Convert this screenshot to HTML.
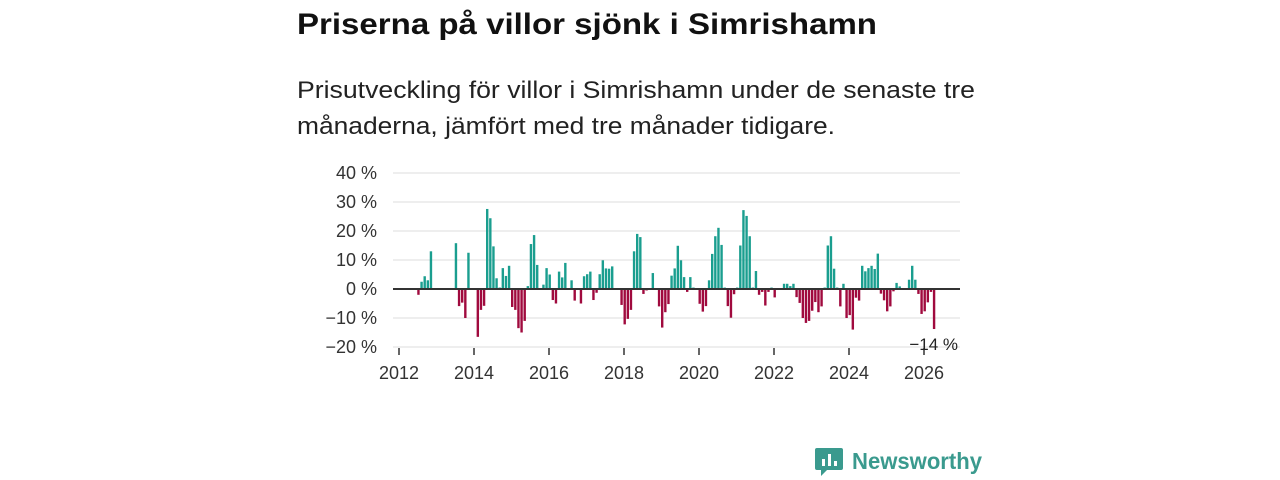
<!DOCTYPE html>
<html><head><meta charset="utf-8">
<style>
html,body{margin:0;padding:0;background:#fff;}
svg{display:block;font-family:"Liberation Sans","DejaVu Sans",sans-serif;}
</style></head>
<body>
<svg id="chart" width="1280" height="480" viewBox="0 0 1280 480">
  <text x="297" y="34" font-size="30" font-weight="bold" fill="#111" textLength="580" lengthAdjust="spacingAndGlyphs">Priserna på villor sjönk i Simrishamn</text>
  <text x="297" y="98" font-size="24" fill="#222" textLength="678" lengthAdjust="spacingAndGlyphs">Prisutveckling för villor i Simrishamn under de senaste tre</text>
  <text x="297" y="134" font-size="24" fill="#222" textLength="538" lengthAdjust="spacingAndGlyphs">månaderna, jämfört med tre månader tidigare.</text>
  <g id="grid"></g>
  <g id="yaxis"></g>
  <g id="xaxis"></g>
  <g id="bars"></g>
  <line x1="393" x2="960" y1="289" y2="289" stroke="#333" stroke-width="2"/>
  <text id="lastlabel" x="958" y="350" font-size="17" fill="#222" text-anchor="end"></text>
  <g>
    <path d="M817 448 h24 a2 2 0 0 1 2 2 v18 a2 2 0 0 1 -2 2 h-14 l-6 6 v-6 h-4 a2 2 0 0 1 -2 -2 v-18 a2 2 0 0 1 2 -2z" fill="#3a9a8e"/>
    <rect x="822" y="459" width="3" height="7" fill="#fff"/>
    <rect x="828" y="454" width="3" height="12" fill="#fff"/>
    <rect x="834" y="461" width="3" height="5" fill="#fff"/>
    <text x="852" y="469" font-size="23" font-weight="bold" fill="#3a9a8e" textLength="130" lengthAdjust="spacingAndGlyphs">Newsworthy</text>
  </g>
</svg>
<script>
const startYear = 2012;
const values = [null,null,null,null,null,null,-2,2.5,4.4,3,13,null,
null,null,null,null,null,null,15.8,-5.9,-4.7,-10,12.5,null,
null,-16.5,-7.2,-5.8,27.6,24.4,14.7,3.7,0.5,7.2,4.5,8,
-6.2,-7.2,-13.5,-15,-11,1,15.5,18.6,8.3,null,1.5,7.2,
5,-3.8,-5,6,4,9,null,3,-4,null,-5,4.4,
5.1,6,-3.8,-1.3,5.1,9.9,7.1,7,7.8,null,null,-5.5,
-12.2,-10.3,-7.2,13,19,17.9,-1.7,-0.5,null,5.5,-0.3,-6,
-13.3,-8,-5.2,4.6,7.1,14.9,9.9,4.1,-1,4.1,0.5,null,
-5.1,-7.8,-5.9,3,12.1,18.2,21.1,15.2,0.5,-5.9,-9.9,-1.8,
0.5,15,27.2,25.2,18.2,0.5,6.2,-2,-1,-5.7,-1,0.5,
-2.9,null,null,1.8,1.8,1,1.8,-2.8,-4.8,-10,-11.7,-11,
-7.5,-4.5,-8,-6,0.5,15,18.2,7,0.5,-6,1.8,-10,
-9,-14,-3,-4,8,6.1,7.2,8,6.9,12.2,-1.6,-3.9,
-7.7,-6,-0.8,2.1,0.9,null,null,3.2,8,3.2,-1.7,-8.6,
-7.7,-4.6,-1,-13.8];
const yTicks = [40,30,20,10,0,-10,-20];
const xTickYears = [2012,2014,2016,2018,2020,2022,2024,2026];

const NS = "http://www.w3.org/2000/svg";
function yScale(v){ return 289 - v*2.9; }
function xScale(monthIndex){ return 399 + monthIndex*3.125; }
function mk(tag, attrs, parent){ const e=document.createElementNS(NS,tag); for(const k in attrs) e.setAttribute(k,attrs[k]); parent.appendChild(e); return e; }
function fmt(v){ return (v<0?"\u2212"+Math.abs(v):String(v))+" %"; }

const grid=document.getElementById('grid'), yax=document.getElementById('yaxis'), xax=document.getElementById('xaxis'), bars=document.getElementById('bars');
yTicks.forEach(t=>{
  if(t!==0){
    const l=mk('line',{x1:393,x2:960,y1:yScale(t),y2:yScale(t),stroke:'#dcdcdc','stroke-width':1},grid);
    
    
  }
  const tx=mk('text',{x:377,y:yScale(t)+6,'font-size':18,fill:'#333','text-anchor':'end'},yax);
  tx.textContent=fmt(t);
  
  
});
xTickYears.forEach(yr=>{
  const x=xScale((yr-startYear)*12);
  const tk=mk('line',{x1:x,x2:x,y1:348,y2:355,stroke:'#333','stroke-width':1.5},xax);
  
  
  const tx=mk('text',{x:x,y:379,'font-size':18,fill:'#333','text-anchor':'middle'},xax);
  tx.textContent=String(yr);
  
  
});
let lastIdx=-1;
values.forEach((v,i)=>{
  if(v===null) return;
  lastIdx=i;
  const y0=yScale(0), y1=yScale(v);
  const r=mk('rect',{x:xScale(i)-0.5,y:Math.min(y0,y1),width:2.4,height:Math.max(0.8,Math.abs(y1-y0)),fill:v>=0?'#1a9e8f':'#a00a3e'},bars);
  
  
});
document.getElementById('lastlabel').textContent=fmt(Math.round(values[lastIdx]));
</script>
</body></html>
